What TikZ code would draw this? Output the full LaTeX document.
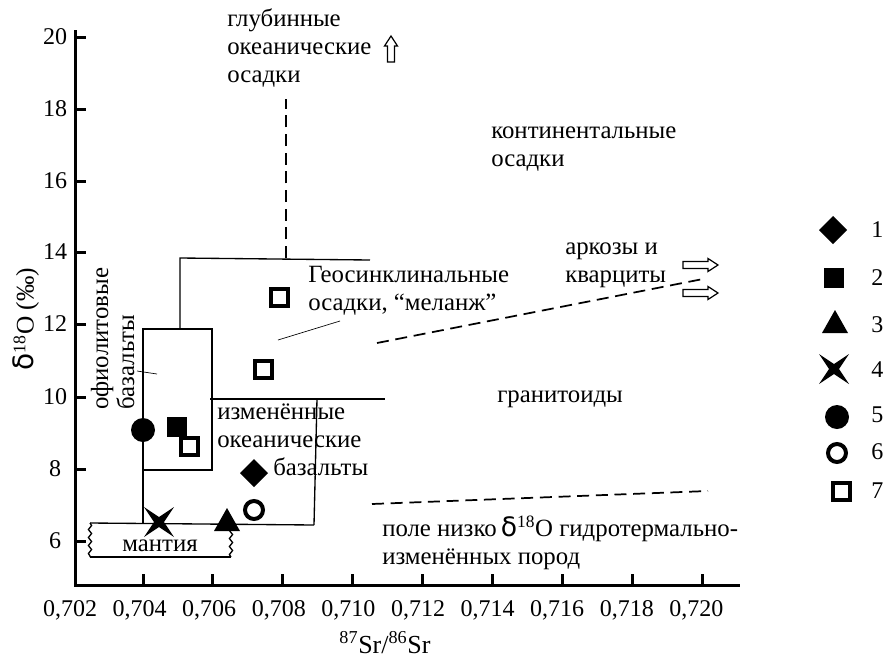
\documentclass[tikz,border=0pt]{standalone}
\usepackage{fontspec}
\setmainfont{Liberation Serif}
\newfontfamily\dvsans{DejaVu Sans}
\usetikzlibrary{decorations.pathmorphing}
\tikzset{
  ax/.style={line width=2.25pt},
  bx/.style={line width=1pt},
  thinln/.style={line width=0.5pt},
  dsh/.style={line width=1.3pt, dash pattern=on 9pt off 5pt},
  wavy/.style={bx, decorate, decoration={snake, amplitude=1.2pt, segment length=6pt}},
  lbl/.style={font=\fontsize{18.6}{21}\selectfont, inner sep=0pt, align=left, anchor=base west},
  tk/.style={font=\fontsize{18}{21}\selectfont, inner sep=0pt},
  hollow/.style={draw, fill=white, line width=0.9pt},
  mdia/.pic={\fill (0,-14) -- (14,0) -- (0,14) -- (-14,0) -- cycle;},
  msq/.pic={\fill (-10,-10) rectangle (10,10);},
  mosq/.pic={\draw[line width=3pt] (-8.5,-8.5) rectangle (8.5,8.5);},
  mtri/.pic={\fill (0,-13) -- (13,10) -- (-13,10) -- cycle;},
  mstar/.pic={\fill (-15,-15) -- (0,-5) -- (15,-15) -- (5,0) -- (15,15) -- (0,5) -- (-15,15) -- (-5,0) -- cycle;},
  mdot/.pic={\fill (0,0) circle[radius=9pt];},
  mocirc/.pic={\draw[line width=3pt] (0,0) circle[radius=6.75pt];},
}
\begin{document}
\begin{tikzpicture}[x=0.75pt,y=-0.75pt]
\useasboundingbox (0,0) rectangle (883,665);
% axes
\draw[ax] (75,30) -- (75,585) -- (740,585);
\foreach \v/\yy in {20/37,18/109,16/181,14/252,12/324,10/397,8/469,6/541}{
  \draw[ax] (75,\yy) -- (86,\yy);
  \node[tk] at (55,\yy) {\v};
}
\foreach \i in {1,...,9}{
  \draw[ax] ({143+69.9*(\i-1)},585) -- ({143+69.9*(\i-1)},574);
}
\foreach \i/\t in {0/702,1/704,2/706,3/708,4/710,5/712,6/714,7/716,8/718,9/720}{
  \node[tk] at ({70+69.6*\i},610) {0,\t};
}
\node[tk, rotate=90, font=\fontsize{19}{21}\selectfont] (ylab) at (26,319) {{\dvsans\fontsize{21}{21}\selectfont δ}\textsuperscript{18}O (‰)};
\node[tk, font=\fontsize{19.5}{21}\selectfont] (xlab) at (385,643) {\textsuperscript{87}Sr/\textsuperscript{86}Sr};
% fields
\draw[bx] (143,329) rectangle (212,470);
\draw[bx] (143,470) -- (143,524);
\draw[bx] (180,329) -- (180,258) -- (370,260);
\draw[dsh] (286,258) -- (286,99);
\draw[bx] (210,399) -- (385,399);
\draw[bx] (317,399) -- (314,525);
\draw[bx] (90,523) -- (314,525);
\draw[bx] (90,557) -- (231,557);
\draw[wavy] (90,523) -- (90,557);
\draw[wavy] (231,524) -- (231,557);
\draw[thinln] (278,340) -- (340,321);
\draw[thinln] (137,371) -- (157,374);
\draw[dsh] (377,343) -- (703,279);
\draw[dsh] (372,504) -- (708,491);
% hollow arrows
\draw[hollow] (387.5,62) -- (387.5,46) -- (384.5,46) -- (391,36) -- (397.5,46) -- (394.5,46) -- (394.5,62) -- cycle;
\draw[hollow] (683,261.5) -- (708,261.5) -- (708,258.5) -- (718,265) -- (708,271.5) -- (708,268.5) -- (683,268.5) -- cycle;
\draw[hollow] (683,289.5) -- (708,289.5) -- (708,286.5) -- (718,293) -- (708,299.5) -- (708,296.5) -- (683,296.5) -- cycle;
% labels (base anchor = baseline of the last line)
\node[lbl] (glub) at (227,82) {глубинные\\океанические\\осадки};
\node[lbl] (kont) at (491,166) {континентальные\\осадки};
\node[lbl] (geo) at (308,310) {Геосинклинальные\\осадки, “меланж”};
\node[lbl] (ark) at (565,282) {аркозы и\\кварциты};
\node[lbl] (izm) at (217,475) {изменённые\\океанические\\\hspace*{42pt}базальты};
\node[lbl] (gran) at (497,402) {гранитоиды};
\node[lbl] (pole) at (382,564) {поле низко\,{\dvsans\fontsize{20}{21}\selectfont δ}\textsuperscript{18}O гидротермально-\\изменённых пород};
\node[lbl, anchor=base] (mant) at (160,551) {мантия};
\node[lbl, rotate=90, font=\fontsize{18.6}{19.5}\selectfont] (ofio) at (134,410) {офиолитовые\\базальты};
% data
\pic at (143,430) {mdot};
\pic at (177,427) {msq};
\pic at (189.5,446.5) {mosq};
\pic at (254,473) {mdia};
\pic at (254,510) {mocirc};
\pic at (227,521) {mtri};
\pic at (159,522) {mstar};
\pic at (263,369) {mosq};
\pic at (279,297) {mosq};
% legend
\pic at (833,230) {mdia};
\pic at (834,278) {msq};
\pic at (835,323) {mtri};
\pic at (834,369) {mstar};
\pic at (837,417) {mdot};
\pic at (837,453) {mocirc};
\pic at (841,491) {mosq};
\foreach \n/\yy in {1/230,2/278,3/325,4/370,5/415,6/452,7/491}{
  \node[tk, anchor=west] (lg\n) at (871,\yy) {\n};
}
\end{tikzpicture}
\end{document}
